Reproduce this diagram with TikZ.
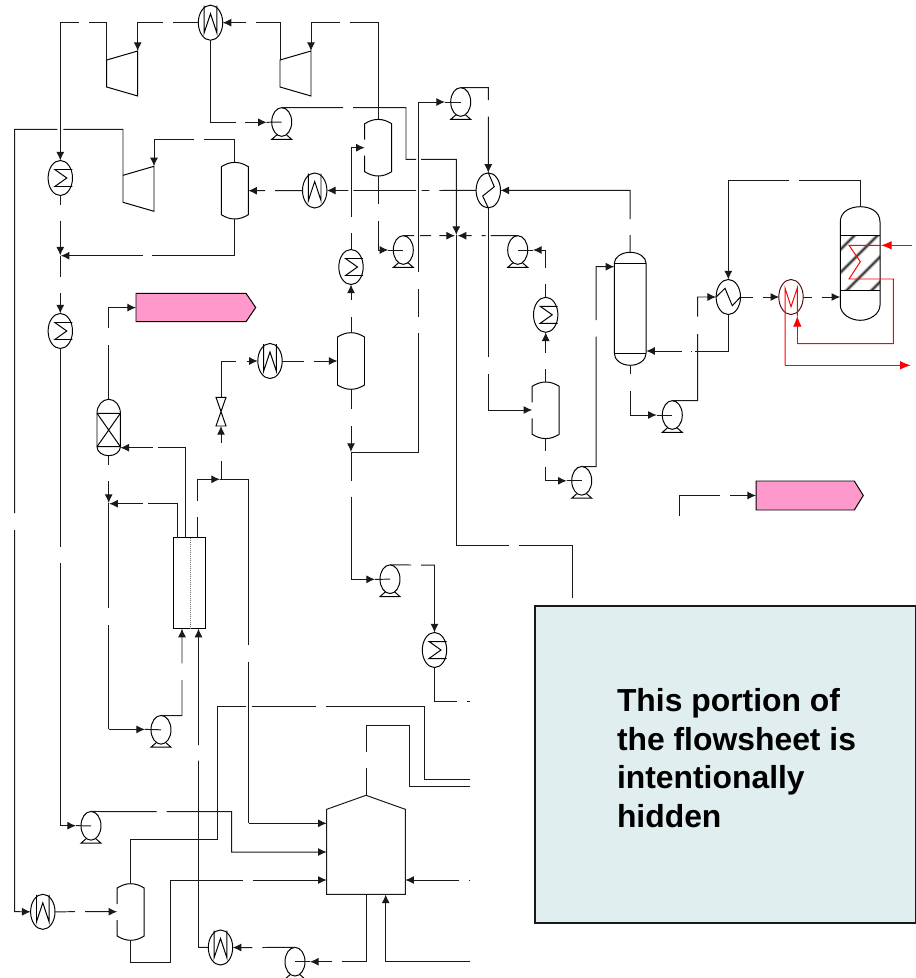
\documentclass[tikz,border=0pt]{standalone}
\usepackage{fontspec}
\setmainfont{Liberation Sans}
\usetikzlibrary{arrows.meta,shapes.geometric}
\definecolor{tagpink}{HTML}{FF99CC}
\definecolor{hidebox}{HTML}{E0EEEF}
\definecolor{darkred}{HTML}{501010}
\tikzset{
  flow/.style={line width=.74pt,black!90},
  arr/.style={flow,-{Latex[length=6.5pt,width=6pt]}},
  eq/.style={line width=.74pt,black},
  redflow/.style={line width=.74pt,red},
  redarr/.style={redflow,-{Latex[length=8pt,width=6.5pt]}},
  hx/.style={ellipse,draw=black,line width=.74pt,inner sep=0pt,minimum width=18.3pt,minimum height=26.3pt,outer sep=0pt},
  pumpnode/.style={ellipse,draw=black,line width=.74pt,inner sep=0pt,minimum width=15pt,minimum height=21.5pt,outer sep=0pt},
  hold/.style={rectangle,inner sep=0pt,outer sep=0pt},
  tagbody/.style={draw=black,line width=.74pt,fill=tagpink},
}
\newcommand\hxW[3]{\node[hx] (#1) at (#2,#3) {};
  \draw[eq,shift={(#2,#3)}] (-6.3,-17) -- (-6.3,10) -- (0,-9) -- (6.3,10) -- (6.3,-17);}
\newcommand\hxS[3]{\node[hx] (#1) at (#2,#3) {};
  \draw[eq,shift={(#2,#3)}] (12,-8.5) -- (-5.5,-8.5) -- (6.5,0) -- (-5.5,8.5) -- (12,8.5);}
\newcommand\pumpeq[3]{\node[pumpnode] (#1) at (#2,#3) {};
  \draw[eq,shift={(#2,#3)}] (-5,13) -- (-10,17.4) -- (10,17.4) -- (5,13);}
\newcommand\compressor[3]{\coordinate (#1out) at (#2,#3);
  \coordinate (#1in) at ([shift={(31,-9)}]#2,#3);
  \draw[eq] (#1out) -- (#1in) -- ++(0,45) -- ++(-31,-9) -- cycle;}
\newcommand\vessel[3]{\node[hold,minimum width=20.25pt,minimum height=42.5pt] (#1) at (#2,#3) {};
  \draw[eq,shift={(#2,#3)}] (-13.5,-24) .. controls (-9,-26.7) and (-5,-28.3) .. (0,-28.3) .. controls (5,-28.3) and (9,-26.7) .. (13.5,-24)
   -- (13.5,24) .. controls (9,26.7) and (5,28.3) .. (0,28.3) .. controls (-5,28.3) and (-9,26.7) .. (-13.5,24) -- cycle;}
\newcommand\vesselgap[3]{\node[hold,minimum width=20.25pt,minimum height=42.5pt] (#1) at (#2,#3) {};
  \draw[eq,shift={(#2,#3)}] (-13.5,-8) -- (-13.5,-24) .. controls (-9,-26.7) and (-5,-28.3) .. (0,-28.3) .. controls (5,-28.3) and (9,-26.7) .. (13.5,-24)
   -- (13.5,24) .. controls (9,26.7) and (5,28.3) .. (0,28.3) .. controls (-5,28.3) and (-9,26.7) .. (-13.5,24) -- (-13.5,8);}
% name, cx, top, bottom, half width, top cap depth, bottom cap depth
\newcommand\tower[7]{%
  \pgfmathsetmacro\twrL{#2-#5}\pgfmathsetmacro\twrR{#2+#5}%
  \pgfmathsetmacro\twrT{#3+#6}\pgfmathsetmacro\twrB{#4-#7}%
  \pgfmathsetmacro\twrCL{#2-.55*#5}\pgfmathsetmacro\twrCR{#2+.55*#5}%
  \pgfmathsetmacro\twrCT{#3+.45*#6}\pgfmathsetmacro\twrCB{#4-.45*#7}%
  \coordinate (#1top) at (#2,#3); \coordinate (#1bot) at (#2,#4);
  \draw[eq] (\twrL,\twrB) -- (\twrL,\twrT) .. controls (\twrL,\twrCT) and (\twrCL,#3) .. (#2,#3) .. controls (\twrCR,#3) and (\twrR,\twrCT) .. (\twrR,\twrT)
     -- (\twrR,\twrB) .. controls (\twrR,\twrCB) and (\twrCR,#4) .. (#2,#4) .. controls (\twrCL,#4) and (\twrL,\twrCB) .. (\twrL,\twrB);}
\begin{document}
\begin{tikzpicture}[x=.75pt,y=-.75pt]
\useasboundingbox (0,0) rectangle (916,978);
% ---------- equipment ----------
\hxW{wa}{210.5}{22.7}
\hxW{wb}{314.7}{190.5}
\hxW{wc}{270}{361}
\hxW{wd}{42.8}{911.8}
\hxW{we}{220.5}{947.5}
\hxS{sa}{60.3}{178}
\hxS{sb}{60.3}{331}
\hxS{sc}{351}{267}
\hxS{sd}{545.7}{314.8}
\hxS{se}{434.5}{650}
\node[hx] (hxa) at (488.3,190.4) {};
\draw[eq] (hxa.north) -- (494.3,186.7) -- (482.7,196) -- (hxa.south);
\node[hx] (hxb) at (728.3,297) {};
\draw[eq] (hxb.west) -- (725,288.3) -- (732.3,305.7) -- (hxb.east);
\pumpeq{pa}{281.7}{122}
\pumpeq{pb}{460.7}{102}
\pumpeq{pc}{403.3}{250}
\pumpeq{pd}{517.7}{250}
\pumpeq{pe}{581.7}{480.8}
\pumpeq{pf}{672.3}{415}
\pumpeq{pg}{390}{579.2}
\pumpeq{ph}{161}{729.8}
\pumpeq{pi}{91}{825.8}
\pumpeq{pj}{295}{961.7}
\compressor{ca}{106.7}{60}
\compressor{cb}{280}{60}
\compressor{cc}{123}{175.3}
\vesselgap{va}{378.2}{147.7}
\vessel{vb}{234.8}{190.7}
\vessel{vc}{351}{361}
\vesselgap{vd}{545.7}{410.3}
\vesselgap{ve}{130.7}{912}
% distillation column
\tower{col}{630.2}{252.3}{365.3}{15.9}{11}{12}
\draw[eq] (614.3,263.3) -- (646.1,263.3) (614.3,353.3) -- (646.1,353.3);
% absorber
\tower{abs}{108.7}{399.3}{455.7}{11.7}{14}{9}
\draw[eq] (97,413.3) -- (120.4,413.3) (97,446.7) -- (120.4,446.7) (97,413.3) -- (120.4,446.7) (120.4,413.3) -- (97,446.7);
% tubular unit
\node[hold,draw=black,line width=.74pt,minimum width=23.8pt,minimum height=68pt] (tube) at (189.85,583) {};
\draw[line width=.5pt,black!55,densely dotted] (tube.north) -- (tube.south);
% valve
\node[hold,minimum width=7.5pt,minimum height=21.5pt] (valve) at (221,411.7) {};
\draw[eq] (216,397.3) -- (226,397.3) -- (216,426) -- (226,426) -- cycle;
% reformer
\node[hold,minimum width=59pt,minimum height=74pt] (reform) at (366,844.8) {};
\draw[line width=.74pt,black!90] (326.7,809.3) -- (366,795.3) -- (405.3,809.3) -- (405.3,894.3) -- (326.7,894.3) -- cycle;
% reactor
\begin{scope}
\clip (840.3,235) rectangle (880,290.7);
\foreach \s in {1090,1113,1137,1162}{
  \draw[line width=3pt,black!22] (\s-230,230) -- (\s-300,300);
  \draw[line width=1.9pt,black!42] (\s-230,230) -- (\s-300,300);
  \draw[line width=.9pt,black!80] (\s-230,230) -- (\s-300,300);
}
\end{scope}
\node[hold,minimum width=29.8pt,minimum height=85pt] (reactor) at (860.3,263.5) {};
\draw[eq] (840.3,222) .. controls (840.3,211) and (851,206.7) .. (860.3,206.7) .. controls (869.5,206.7) and (880,211) .. (880,222)
  -- (880,305) .. controls (880,314) and (870,320.3) .. (860.3,320.3) .. controls (850.5,320.3) and (840.3,314) .. (840.3,305) -- cycle;
\draw[eq] (840.3,235) -- (880,235) (840.3,290.7) -- (880,290.7);
% product tags
\node[hold,minimum width=88pt,minimum height=21.3pt] (taga) at (195.8,307.5) {};
\draw[tagbody] (136,293.3) -- (246,293.3) -- (255.7,307.5) -- (246,321.7) -- (136,321.7) -- cycle;
\node[hold,minimum width=80pt,minimum height=21.8pt] (tagb) at (809.6,495.5) {};
\draw[tagbody] (756,481) -- (854.3,481) -- (863.3,495.5) -- (854.3,510) -- (756,510) -- cycle;
% ---------- streams, upper left ----------
\draw[arr] (caout) -- (106.7,22.7) -- (89.3,22.7) (79,22.7) -- (60.3,22.7) -- (sa.north);
\draw[arr] (wa.west) -- (173,22.7) (163,22.7) -- (137.7,22.7) -- (cain);
\draw[arr] (cbout) -- (280,22.7) -- (256,22.7) (246,22.7) -- (wa.east);
\draw[arr] (va.north) -- (378.2,22.7) -- (350,22.7) (340,22.7) -- (311,22.7) -- (cbin);
\draw[arr] (wa.south) -- (210.5,122.3) -- (236,122.3) (245,122.3) -- (266.7,122.3);
\draw[flow] (266.7,122.3) -- (pa.center);
\draw[arr] (pa.north) -- (343,107.7) (353,107.7) -- (406,107.7) -- (406,159.3) -- (416,159.3) (421,159.3) -- (456.3,159.3) -- (456.3,235);
\draw[flow] (456.3,235) -- (456.3,545) -- (509,545) (519,545) -- (572.7,545) -- (572.7,598);
\draw[arr] (ccout) -- (123,129.3) -- (63.3,129.3) (57.3,129.3) -- (14.7,129.3) -- (14.7,513) (14.7,530) -- (14.7,911.7) -- (wd.west);
\draw[arr] (vb.north) -- (234.8,139.3) -- (204,139.3) (194,139.3) -- (154,139.3) -- (ccin);
\draw[arr] (sa.south) -- (60.3,205) (60.3,220.7) -- (60.3,255.5);
\draw[flow] (60.3,255.5) -- (60.3,276.7);
\draw[arr] (60.3,293.3) -- (sb.north);
\draw[arr] (vb.south) -- (234.8,255.7) -- (151.7,255.7) (142.7,255.7) -- (60.8,255.7);
\draw[arr] (wb.west) -- (275,190.7) (265,190.7) -- (vb.east);
\draw[arr] (hxa.west) -- (439.3,190.5) (429.3,190.5) -- (421.5,190.5) (416,190.5) -- (353.3,190.5) (348.3,190.5) -- (wb.east);
% ---------- streams, centre ----------
\draw[arr] (351,216.7) -- (351,147.7) -- (364.7,147.7);
\draw[flow] (351,233.3) -- (sc.north);
\draw[arr] (351,300) -- (sc.south);
\draw[flow] (351,317.3) -- (vc.north);
\draw[arr] (va.south) -- (378.2,204.3) (378.2,221) -- (378.2,250) -- (388.3,250);
\draw[flow] (388.3,250) -- (pc.center);
\draw[arr] (pc.north) -- (414,235.7) (420,235.7) -- (431,235.7) (439.3,235.7) -- (455,235.7);
\draw[arr] (pd.north) -- (490.7,235.7) (485.7,235.7) -- (481.7,235.7) (471.7,235.7) -- (464,235.7) -- (457.6,235.7);
\draw[arr] (sd.north) -- (545.7,284.3) (545.7,267.7) -- (545.7,250) -- (533,250);
\draw[flow] (533,250) -- (pd.center);
\draw[arr] (545.7,352.7) -- (sd.south);
\draw[flow] (545.7,369.3) -- (vd.north);
\draw[arr] (vd.south) -- (545.7,450.7) (545.7,466.7) -- (545.7,480.8) -- (566.7,480.8);
\draw[flow] (566.7,480.8) -- (pe.center);
\draw[arr] (pe.north) -- (596,466.7) -- (596,336.7) (596,320) -- (596,266.7) -- (614.3,266.7);
\draw[arr] (coltop) -- (630.2,235) (630.2,219) -- (630.2,190.3) -- (hxa.east);
\draw[arr] (pb.north) -- (488.3,87.7) -- (488.3,100) (488.3,116.7) -- (hxa.north);
\draw[arr] (351,452.7) -- (418.3,452.7) -- (418.3,333.3) (418.3,316.7) -- (418.3,289.3) (418.3,272.3) -- (418.3,102) -- (445,102);
\draw[flow] (445,102) -- (pb.center);
\draw[arr] (hxa.south) -- (488.3,357.3) (488.3,374) -- (488.3,410) -- (532.2,410);
\draw[arr] (colbot) -- (630.2,374.3) (630.2,391) -- (630.2,415) -- (656.7,415);
\draw[flow] (656.7,415) -- (pf.center);
\draw[arr] (pf.north) -- (697.5,400.7) -- (697.5,334) (697.5,316.7) -- (697.5,297) -- (hxb.west);
\draw[arr] (hxb.south) -- (728.3,351) -- (694.5,351) (691.7,351) -- (690.7,351) (681.7,351) -- (646.2,351);
\draw[arr] (860.3,206.7) -- (860.3,180.3) -- (799.3,180.3) (789,180.3) -- (728.3,180.3) -- (hxb.north);
\draw[arr] (hxb.east) -- (752.7,297) (763.3,297) -- (779.2,297);
% ---------- reactor and red loop ----------
\node[hx,draw=darkred] (hxm) at (791,297) {};
\draw[arr] (hxm.east) -- (812,297) (822.3,297) -- (840.2,297);
\draw[redarr] (912.3,245.3) -- (881,245.3);
\draw[redflow] (881,245.3) -- (849,245.3) -- (860.3,261.7) -- (849,279) -- (893.3,279) -- (893.3,343.7) -- (797.3,343.7);
\draw[redarr] (797.3,343.7) -- (797.3,316);
\draw[redflow] (797.3,316) -- (797.3,288) -- (791,306.7) -- (785,288) -- (785,365.3);
\draw[redarr] (785,365.3) -- (910.7,365.3);
\draw[arr] (679,516) -- (679,495.5) -- (720,495.5) (730,495.5) -- (756,495.5);
% ---------- streams, middle left ----------
\draw[arr] (wc.east) -- (304,361) (314,361) -- (vc.west);
\draw[arr] (valve.north) -- (221,361) -- (236,361) (246.7,361) -- (wc.west);
\draw[arr] (221,479.3) -- (221,461) (221,443.3) -- (valve.south);
\draw[arr] (197.7,537.7) -- (197.7,517.3) (197.7,500.7) -- (197.7,479.3) -- (220,479.3);
\draw[flow] (220,479.3) -- (248.7,479.3) -- (248.7,645) (248.7,661.7) -- (248.7,823.3);
\draw[arr] (248.7,823.3) -- (326.7,823.3);
\draw[arr] (vc.south) -- (351,409.3) (351,426) -- (351,452);
\draw[flow] (351,452) -- (351,481) (351,496.7) -- (351,579.3);
\draw[arr] (351,579.3) -- (375,579.3);
\draw[flow] (375,579.3) -- (pg.center);
\draw[arr] (pg.north) -- (411,565) (421,565) -- (434.5,565) -- (se.north);
\draw[flow] (se.south) -- (434.5,701.7) -- (456.7,701.7) (466.7,701.7) -- (470,701.7);
\draw[arr] (abstop) -- (108.7,345) (108.7,328.3) -- (108.7,307.6) -- (136,307.6);
\draw[arr] (185.7,537.7) -- (185.7,447.7) -- (158.3,447.7) (152.7,447.7) -- (120.4,447.7);
\draw[arr] (177.3,537.7) -- (177.3,503.7) -- (148.3,503.7) (142.7,503.7) -- (109.2,503.7);
\draw[arr] (absbot) -- (108.7,465) (108.7,481) -- (108.7,503);
\draw[flow] (108.7,503) -- (108.7,608.3) (108.7,625) -- (108.7,729.4);
\draw[arr] (108.7,729.4) -- (145,729.4);
\draw[flow] (145,729.4) -- (ph.center);
\draw[arr] (ph.north) -- (182,715.7) -- (182,680) (182,663.3) -- (182,628.6);
% ---------- streams, bottom ----------
\draw[flow] (sb.south) -- (60.3,546.7) (60.3,563.3) -- (60.3,825.7);
\draw[arr] (60.3,825.7) -- (76,825.7);
\draw[flow] (76,825.7) -- (pi.center);
\draw[arr] (pi.north) -- (156.7,811.7) (166.7,811.7) -- (231.7,811.7) -- (231.7,852) -- (326.7,852);
\draw[flow] (366,795.3) -- (366,768.3) (366,751.7) -- (366,725.7) -- (409,725.7) -- (409,786.7) -- (470,786.7);
\draw[flow] (ve.north) -- (130.7,839.3) -- (217.7,839.3) -- (217.7,706.7) -- (246,706.7) (251.7,706.7) -- (316,706.7) (326,706.7) -- (424,706.7) -- (424,779) -- (470,779);
\draw[arr] (wd.east) -- (75,911.7) (85,911.7) -- (117.2,911.7);
\draw[arr] (ve.south) -- (130.7,962.7) -- (170,962.7) -- (170,880) -- (242.7,880) (252.7,880) -- (326.7,880);
\draw[arr] (we.west) -- (198.5,947.3) -- (198.5,760.7) (198.5,745) -- (198.5,628.6);
\draw[arr] (pj.north) -- (262.3,947.5) (252.3,947.5) -- (we.east);
\draw[arr] (366,894.3) -- (366,961.7) -- (342.3,961.7) (332.3,961.7) -- (310,961.7);
\draw[flow] (310,961.7) -- (pj.center);
\draw[arr] (470,961.7) -- (385.7,961.7) -- (385.7,894.5);
\draw[arr] (459.3,880) -- (405.3,880);
\draw[flow] (469,880) -- (470,880);
% ---------- hidden area ----------
\node[hold,anchor=north west,draw=black!90,line width=1.5pt,fill=hidebox,minimum width=286pt,minimum height=238pt] (hidden) at (534.7,606) {};
\node[hold,anchor=west,align=left,font=\bfseries\fontsize{23.9}{28.9}\selectfont] (note) at (617,758) {This portion of\\the flowsheet is\\intentionally\\hidden};
\end{tikzpicture}
\end{document}
